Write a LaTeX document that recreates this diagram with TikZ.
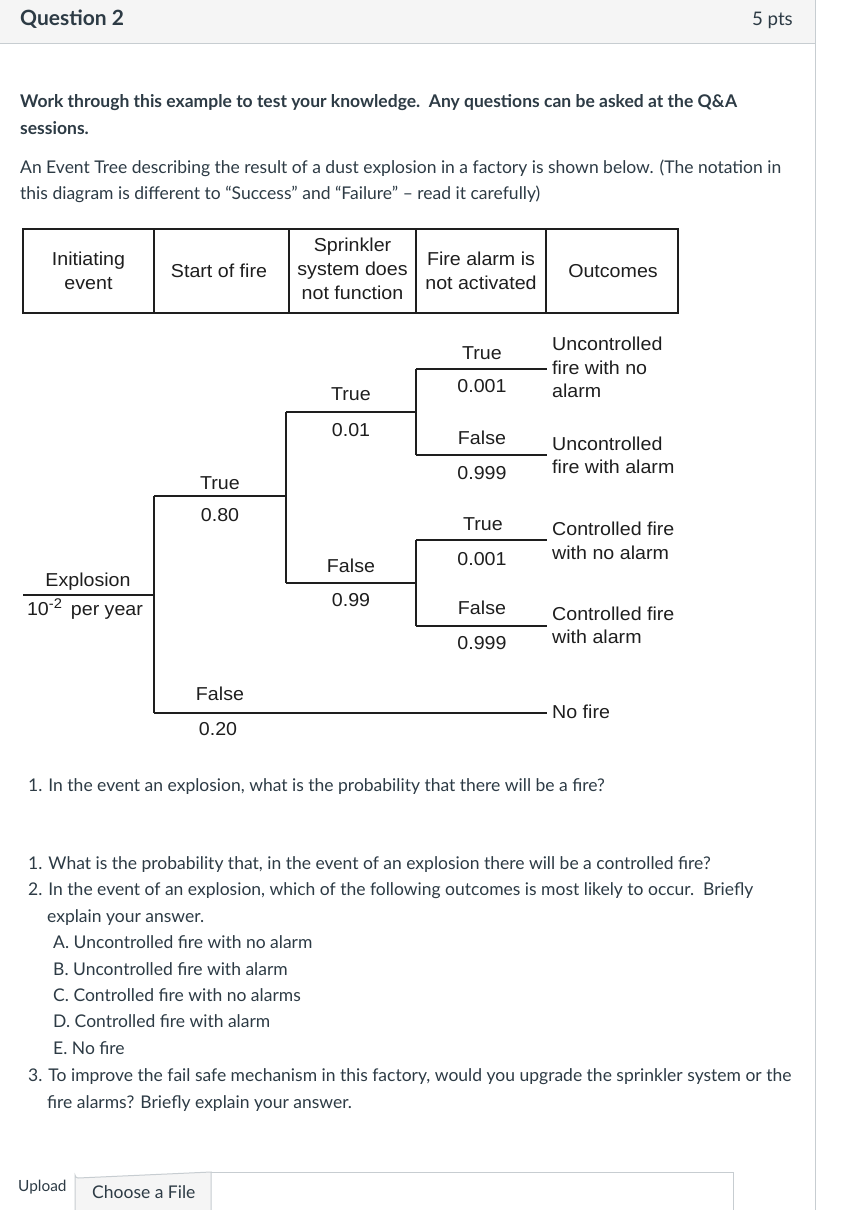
\documentclass[tikz,border=0pt]{standalone}
\usepackage{fontspec}
\setmainfont{Lato}
\newfontfamily\arialf[FakeStretch=1.05]{Liberation Sans}
\definecolor{txt}{HTML}{2D3B45}
\definecolor{hdrbg}{HTML}{F5F5F5}
\definecolor{rulec}{HTML}{C7CDD1}
\definecolor{ink}{HTML}{1E1E1E}
\tikzset{
  body/.style={anchor=base west, inner sep=0pt, text=txt, font=\fontsize{17.5}{21}\selectfont},
  bodyb/.style={body, font=\fontsize{17.5}{21}\selectfont\bfseries},
  dg/.style={inner sep=0pt, text=ink, font=\arialf\fontsize{18.7}{24}\selectfont},
  lbl/.style={dg, anchor=base},
  outl/.style={dg, anchor=base west},
  cell/.style={dg, align=center, anchor=center},
  tree/.style={draw=ink, line width=1.5pt},
  grid/.style={draw=ink, line width=1.4pt}
}
\begin{document}
\begin{tikzpicture}[x=1pt,y=-1pt]
\useasboundingbox (0,0) rectangle (854,1210);
\fill[white] (0,0) rectangle (854,1210);
% header
\fill[hdrbg] (0,0) rectangle (815,43);
\draw[rulec, line width=1pt] (0,43) -- (815,43);
\draw[rulec, line width=1pt] (815,0) -- (815,1210);
\node[anchor=base west, inner sep=0pt, text=txt, font=\fontsize{21}{24}\selectfont\bfseries] (qt) at (20,25) {Question 2};
\node[anchor=base east, inner sep=0pt, text=txt, font=\fontsize{18.7}{22}\selectfont] (pts) at (793,25) {5 pts};
% intro text
\node[bodyb] (p1a) at (20,107) {Work through this example to test your knowledge.\ \ Any questions can be asked at the Q\&A};
\node[bodyb] (p1b) at (20,134) {sessions.};
\node[body] (p2a) at (20,173) {An Event Tree describing the result of a dust explosion in a factory is shown below. (The notation in};
\node[body] (p2b) at (20,199) {this diagram is different to “Success” and “Failure” – read it carefully)};
% table
\draw[grid] (23,229) rectangle (678,313);
\foreach \xx in {154,289,416,546} \draw[grid] (\xx,229) -- (\xx,313);
\node[cell] (h1) at (88.5,271) {Initiating\\event};
\node[cell] (h2) at (219,271) {Start of fire};
\node[cell] (h3) at (352.5,269) {Sprinkler\\system does\\not function};
\node[cell] (h4) at (481,271) {Fire alarm is\\not activated};
\node[cell] (h5) at (613,271) {Outcomes};
% tree coordinates
\coordinate (s0) at (23,595);
\coordinate (j1) at (154,595);
\coordinate (j1t) at (154,496);
\coordinate (j1b) at (154,713);
\coordinate (j2) at (286,496);
\coordinate (j2t) at (286,412);
\coordinate (j2b) at (286,583);
\coordinate (j3) at (416,412);
\coordinate (j3t) at (416,369);
\coordinate (j3b) at (416,455);
\coordinate (j4) at (416,583);
\coordinate (j4t) at (416,540);
\coordinate (j4b) at (416,626);
\coordinate (o1) at (547,369);
\coordinate (o2) at (547,455);
\coordinate (o3) at (547,540);
\coordinate (o4) at (547,626);
\coordinate (o5) at (547,713);
\draw[tree] (s0) -- (j1);
\draw[tree] (j1t) -- (j1b);
\draw[tree] (j1t) -- (j2);
\draw[tree] (j1b) -- (o5);
\draw[tree] (j2t) -- (j2b);
\draw[tree] (j2t) -- (j3);
\draw[tree] (j2b) -- (j4);
\draw[tree] (j3t) -- (j3b);
\draw[tree] (j4t) -- (j4b);
\draw[tree] (j3t) -- (o1);
\draw[tree] (j3b) -- (o2);
\draw[tree] (j4t) -- (o3);
\draw[tree] (j4b) -- (o4);
% tree labels
\node[lbl] (ex) at (88,586) {Explosion};
\node[lbl] (fr) at (85,615) {10\textsuperscript{\fontsize{14}{14}\selectfont -2}\hspace{3pt} per year};
\node[lbl] (t1) at (220,489) {True};
\node[lbl] (p1) at (220,521) {0.80};
\node[lbl] (f1) at (220,700) {False};
\node[lbl] (q1) at (218,735) {0.20};
\node[lbl] (t2) at (351,400) {True};
\node[lbl] (p2) at (351,436) {0.01};
\node[lbl] (f2) at (351,572) {False};
\node[lbl] (q2) at (351,606) {0.99};
\node[lbl] (t3) at (482,359) {True};
\node[lbl] (p3) at (482,392) {0.001};
\node[lbl] (f3) at (482,444) {False};
\node[lbl] (q3) at (482,479) {0.999};
\node[lbl] (t4) at (483,530) {True};
\node[lbl] (p4) at (482,565) {0.001};
\node[lbl] (f4) at (482,614) {False};
\node[lbl] (q4) at (482,649) {0.999};
% outcomes
\node[outl] (u1a) at (552,350) {Uncontrolled};
\node[outl] (u1b) at (552,374) {fire with no};
\node[outl] (u1c) at (552,397) {alarm};
\node[outl] (u2a) at (552,450) {Uncontrolled};
\node[outl] (u2b) at (552,473) {fire with alarm};
\node[outl] (c1a) at (552,535) {Controlled fire};
\node[outl] (c1b) at (552,559) {with no alarm};
\node[outl] (c2a) at (552,620) {Controlled fire};
\node[outl] (c2b) at (552,643) {with alarm};
\node[outl] (nf) at (552,718) {No fire};
% questions
\node[body] (qa) at (28,791) {1. In the event an explosion, what is the probability that there will be a fire?};
\node[body] (qb) at (28,869) {1. What is the probability that, in the event of an explosion there will be a controlled fire?};
\node[body] (qc) at (28,895) {2. In the event of an explosion, which of the following outcomes is most likely to occur.\ \ Briefly};
\node[body] (qc2) at (47,922) {explain your answer.};
\node[body] (oa) at (53,948) {A. Uncontrolled fire with no alarm};
\node[body] (ob) at (53,975) {B. Uncontrolled fire with alarm};
\node[body] (oc) at (53,1001) {C. Controlled fire with no alarms};
\node[body] (od) at (53,1027) {D. Controlled fire with alarm};
\node[body] (oe) at (53,1054) {E. No fire};
\node[body] (qd) at (28,1081) {3. To improve the fail safe mechanism in this factory, would you upgrade the sprinkler system or the};
\node[body] (qd2) at (47,1108) {fire alarms? Briefly explain your answer.};
% upload
\node[anchor=base west, inner sep=0pt, text=txt, font=\fontsize{15.4}{17}\selectfont] (up) at (18,1191) {Upload};
\draw[rulec, line width=1pt] (211,1172) -- (733,1172) -- (733,1212);
\draw[rulec, line width=1pt, fill=hdrbg] (75,1212) -- (75,1175) arc[start angle=180, end angle=90, radius=3] -- (211,1172) -- (211,1212);
\node[anchor=base west, inner sep=0pt, text=txt, font=\fontsize{17.5}{20}\selectfont] (cf) at (92,1198) {Choose a File};
\end{tikzpicture}
\end{document}
